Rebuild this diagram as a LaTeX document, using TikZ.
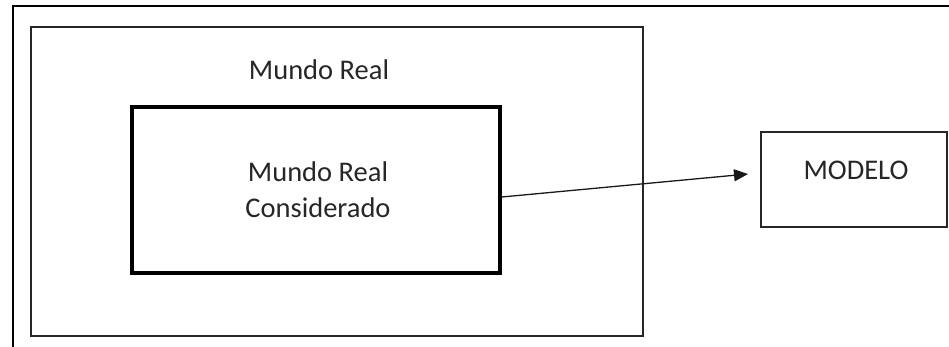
\documentclass[tikz,border=0pt]{standalone}
\usepackage{fontspec}
\setmainfont{Carlito}
\usetikzlibrary{arrows.meta}
\begin{document}
\begin{tikzpicture}[x=1pt,y=-1pt,
  boxthin/.style={draw=black!85,line width=2.5pt,rectangle,inner sep=0pt},
  boxthick/.style={draw=black,line width=3.5pt,rectangle,inner sep=0pt},
  lbl/.style={font=\fontsize{28.5}{36}\selectfont,text=black!85,align=center,inner sep=0pt},
  conn/.style={draw=black!90,line width=1.3pt,-{Triangle[length=14pt,width=12pt]}}]
\useasboundingbox (0,0) rectangle (949,347);
% outer frame (cropped)
\coordinate (ftl) at (13,6);
\coordinate (ftr) at (949,6);
\coordinate (fbl) at (13,347);
\draw[line width=2.5pt,black] (ftr) -- (ftl) -- (fbl);
% middle box
\node[boxthin,minimum width=612pt,minimum height=309pt] (world) at (337,181.5) {};
\node[lbl] (worldlbl) at (319,70) {Mundo Real};
% inner box
\node[boxthick,minimum width=368pt,minimum height=166pt] (inner) at (316,190) {};
\node[lbl] (innerlbl) at (318,190) {Mundo Real\\Considerado};
% model box
\node[boxthin,minimum width=186pt,minimum height=95pt] (model) at (854,179.5) {};
\node[lbl] (modellbl) at (856,170) {MODELO};
% arrow
\coordinate (tip) at (748,174);
\draw[conn] ([yshift=-7pt]inner.east) -- (tip);
\end{tikzpicture}
\end{document}
